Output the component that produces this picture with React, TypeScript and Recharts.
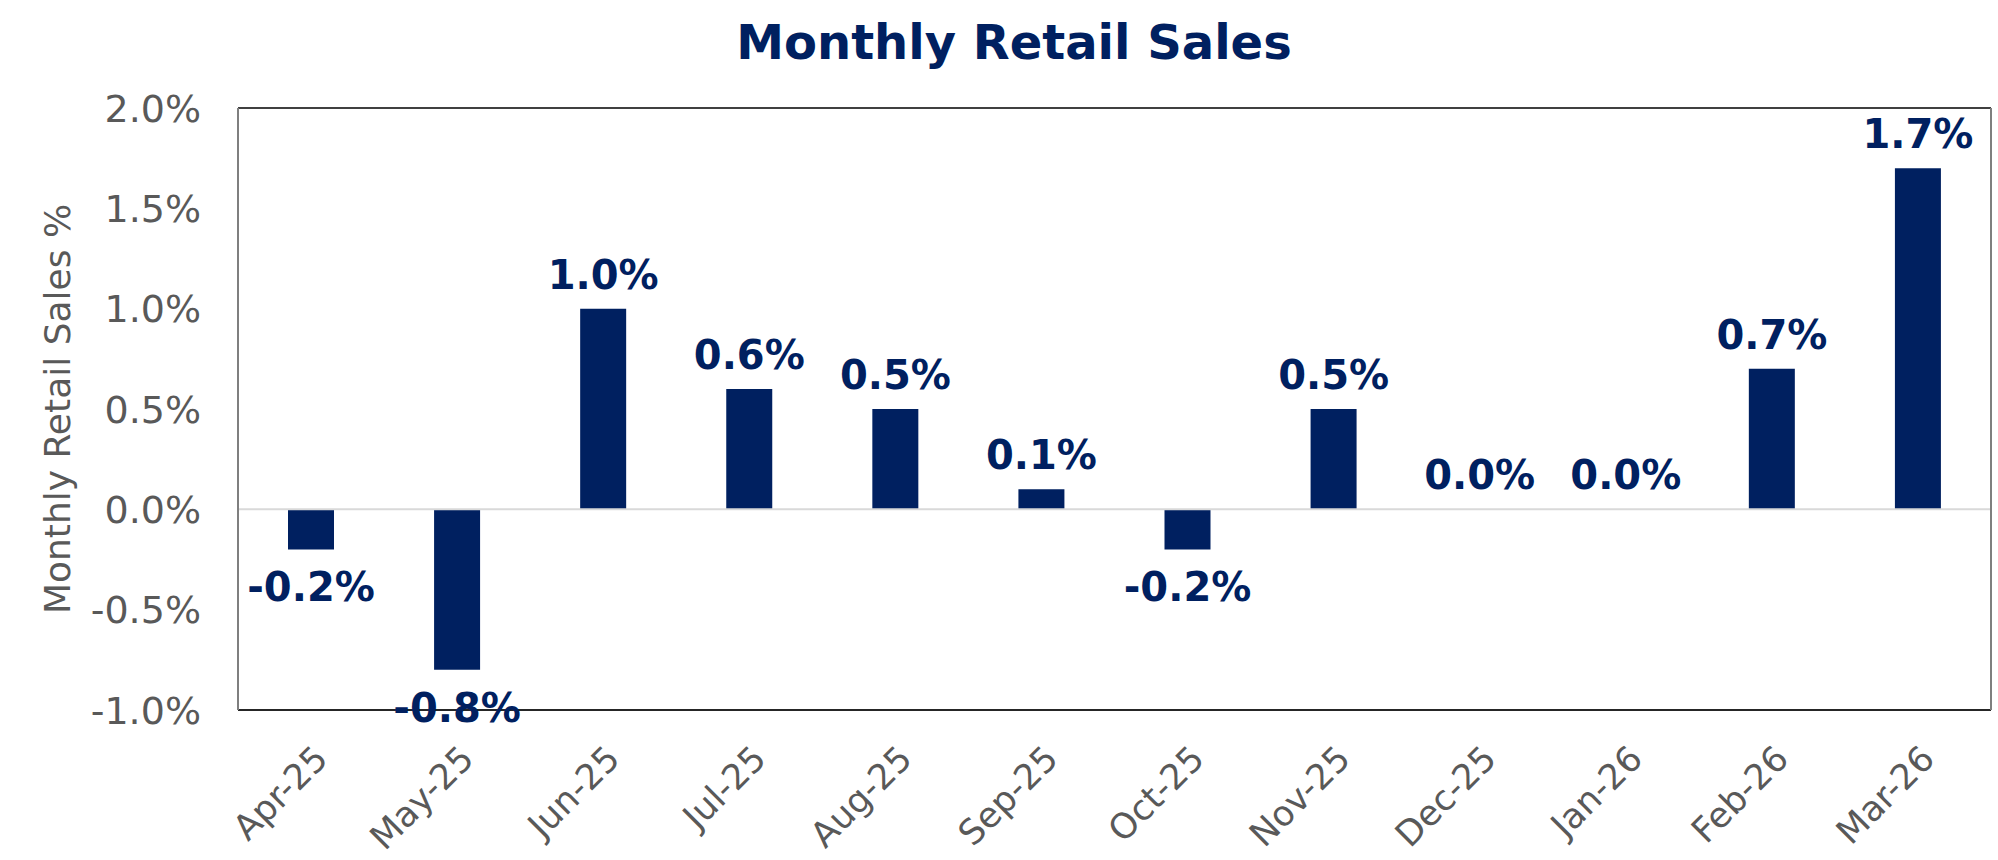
import { ComposedChart, Bar, Line, XAxis, YAxis, ReferenceLine, LabelList } from "recharts";

const MONTHS = [
  "Apr-25",
  "May-25",
  "Jun-25",
  "Jul-25",
  "Aug-25",
  "Sep-25",
  "Oct-25",
  "Nov-25",
  "Dec-25",
  "Jan-26",
  "Feb-26",
  "Mar-26",
];
const CHANGE_PCT = [-0.2, -0.8, 1.0, 0.6, 0.5, 0.1, -0.2, 0.5, 0.0, 0.0, 0.7, 1.7];
const Y_TICKS = [-1, -0.5, 0, 0.5, 1, 1.5, 2];

const NAVY = "#002060";
const GREY_TEXT = "#595959";
const FONT = "'DejaVu Sans', Verdana, sans-serif";

const data = MONTHS.map((month, i) => ({ month, change: CHANGE_PCT[i] }));

const pct = (v: number) => `${v.toFixed(1)}%`;

function YTick(props: any) {
  const { x, y, payload } = props;
  return (
    <text
      x={x}
      y={y}
      dy="0.36em"
      textAnchor="end"
      fill={GREY_TEXT}
      fontSize={38}
      fontFamily={FONT}
    >
      {pct(payload.value)}
    </text>
  );
}

function XTick(props: any) {
  const { x, y, payload } = props;
  const px = x + 10;
  const py = y + 40;
  return (
    <text
      x={px}
      y={py}
      dy="0.35em"
      textAnchor="end"
      fill={GREY_TEXT}
      fontSize={35}
      fontFamily={FONT}
      transform={`rotate(-45 ${px} ${py})`}
    >
      {payload.value}
    </text>
  );
}

// label sits on the point at the bar's end: above for >= 0, below for < 0
function ValueLabel(props: any) {
  const { x, y, value } = props;
  const ty = value >= 0 ? y - 20 : y + 52;
  return (
    <text
      x={x}
      y={ty}
      textAnchor="middle"
      fill={NAVY}
      fontSize={40}
      fontWeight="bold"
      fontFamily={FONT}
    >
      {pct(value)}
    </text>
  );
}

export default function App() {
  return (
    <div style={{ position: "absolute", left: 0, top: 0, width: 1998, height: 860, background: "#fff" }}>
      <svg
        width={1998}
        height={860}
        style={{ position: "absolute", left: 0, top: 0, pointerEvents: "none" }}
      >
        <text
          x={1014}
          y={59}
          textAnchor="middle"
          fill={NAVY}
          fontSize={48}
          fontWeight="bold"
          fontFamily={FONT}
        >
          Monthly Retail Sales
        </text>
        <text
          x={57}
          y={409}
          dy="0.35em"
          textAnchor="middle"
          fill={GREY_TEXT}
          fontSize={36}
          fontFamily={FONT}
          transform="rotate(-90 57 409)"
        >
          Monthly Retail Sales %
        </text>
      </svg>
      <ComposedChart
        width={1998}
        height={860}
        data={data}
        margin={{ top: 107, right: 6, bottom: 0, left: 0 }}
        barSize={46}
      >
        <XAxis
          dataKey="month"
          height={150}
          interval={0}
          tickLine={false}
          tickSize={0}
          axisLine={{ stroke: "#262626", strokeWidth: 2 }}
          tick={<XTick />}
        />
        <XAxis
          xAxisId="top"
          dataKey="month"
          orientation="top"
          height={1}
          tick={false}
          tickLine={false}
          axisLine={{ stroke: "#404040", strokeWidth: 2 }}
        />
        <YAxis
          width={238}
          domain={[-1, 2]}
          ticks={Y_TICKS}
          interval={0}
          tickLine={false}
          tickSize={0}
          tickMargin={37}
          axisLine={{ stroke: "#7f7f7f", strokeWidth: 2 }}
          tick={<YTick />}
        />
        <YAxis
          yAxisId="right"
          orientation="right"
          width={1}
          domain={[-1, 2]}
          ticks={Y_TICKS}
          tick={false}
          tickLine={false}
          axisLine={{ stroke: "#7f7f7f", strokeWidth: 2 }}
        />
        <ReferenceLine y={0} stroke="#d9d9d9" strokeWidth={2} />
        <Bar dataKey="change" fill={NAVY} isAnimationActive={false} />
        <Line
          xAxisId="top"
          yAxisId="right"
          dataKey="change"
          stroke="none"
          dot={false}
          activeDot={false}
          legendType="none"
          isAnimationActive={false}
        >
          <LabelList dataKey="change" content={<ValueLabel />} />
        </Line>
      </ComposedChart>
    </div>
  );
}
